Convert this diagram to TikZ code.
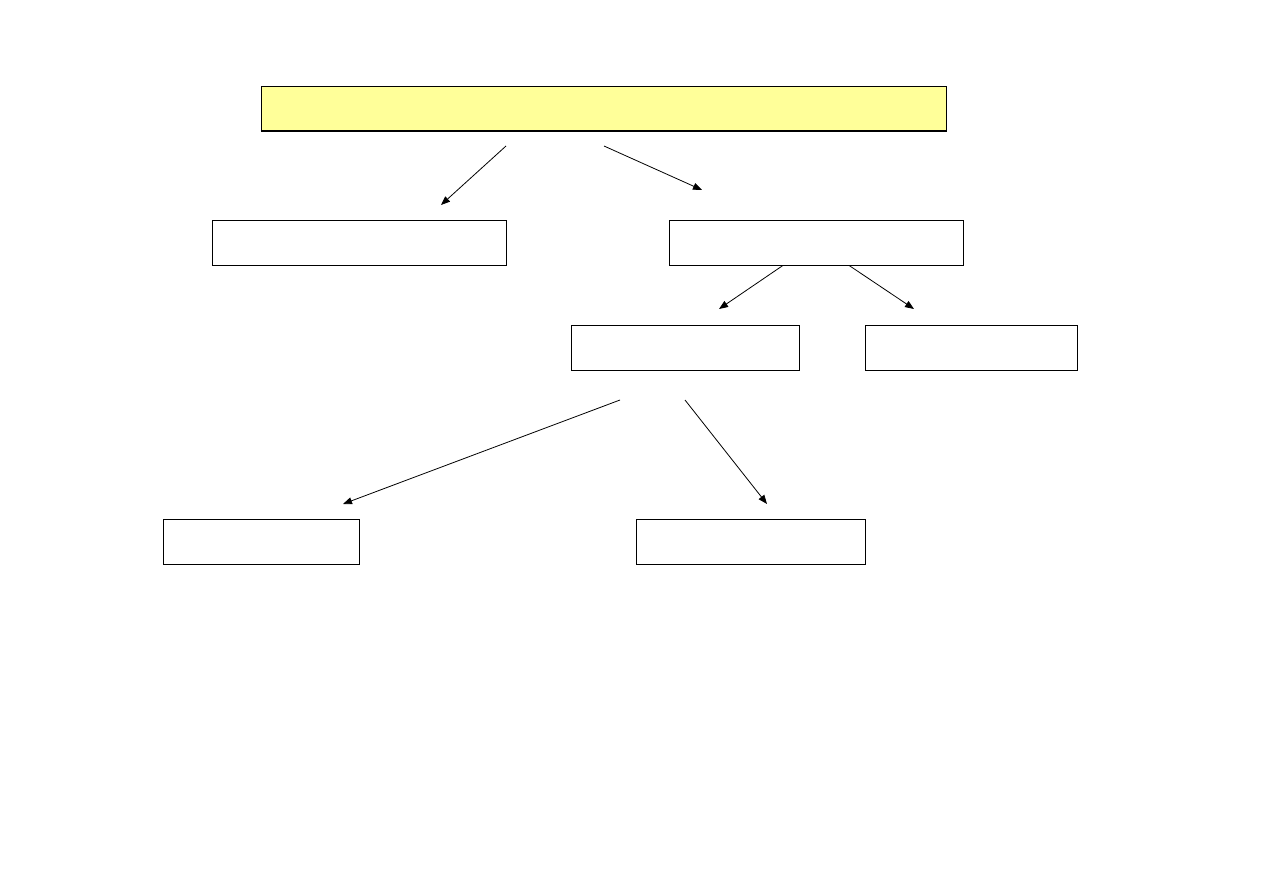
\documentclass[tikz,border=0pt]{standalone}
\usetikzlibrary{arrows.meta}
\definecolor{paleyellow}{HTML}{FFFF99}
\tikzset{
	box/.style={draw, line width=0.8pt, rectangle, minimum height=45pt, inner sep=0pt},
	conn/.style={->, line width=0.8pt}
}

\begin{document}
\begin{tikzpicture}[x=1pt, y=-1pt, >={Triangle[length=9pt,width=7pt]}]
			\useasboundingbox (0,0) rectangle (1263,893);
			% boxes
			\node[box, fill=paleyellow, minimum width=685pt] (top) at (603.5,108.5) {};
			\draw[line width=2pt] (top.south west) -- (top.south east);
			\node[box, minimum width=294pt] (left1) at (359,242.5) {};
			\node[box, minimum width=294pt] (right1) at (816,242.5) {};
			\node[box, minimum width=228pt] (mid2) at (685,347.5) {};
			\node[box, minimum width=212pt] (right2) at (971,347.5) {};
			\node[box, minimum width=196pt] (left3) at (261,541.5) {};
			\node[box, minimum width=229pt] (right3) at (750.5,541.5) {};
			% free ends
			\coordinate (t1) at (506,146);
			\coordinate (t2) at (604,146);
			\coordinate (e1) at (441,205);
			\coordinate (e2) at (702,190);
			\coordinate (e3) at (719,309);
			\coordinate (e4) at (914,309);
			\coordinate (m1) at (620,400);
			\coordinate (m2) at (685,400);
			\coordinate (e5) at (343,504);
			\coordinate (e6) at (767,504);
			% arrows
			\draw[conn] (t1) -- (e1);
			\draw[conn] (t2) -- (e2);
			\draw[conn] ([xshift=-33pt]right1.south) -- (e3);
			\draw[conn] ([xshift=33pt]right1.south) -- (e4);
			\draw[conn] (m1) -- (e5);
			\draw[conn] (m2) -- (e6);
		\end{tikzpicture}
\end{document}
